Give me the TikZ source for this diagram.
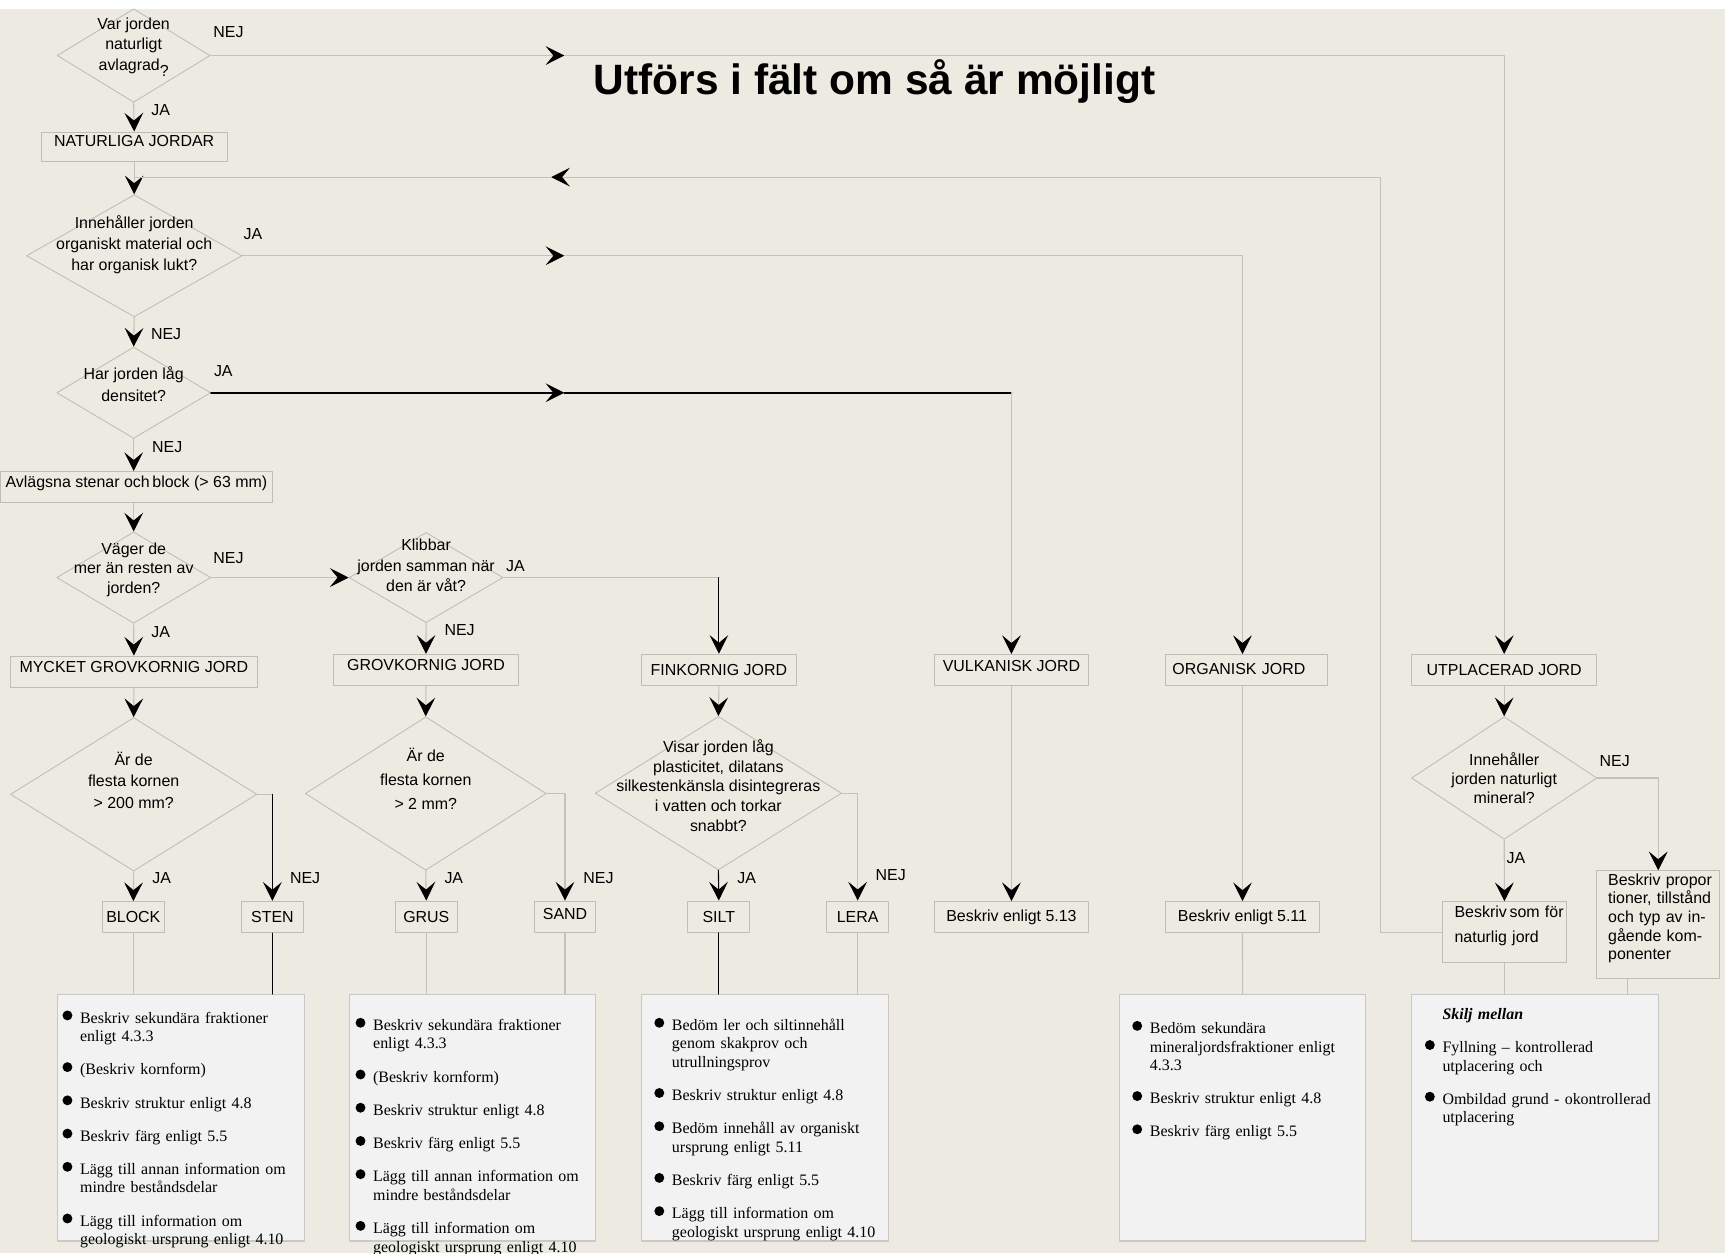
\documentclass[tikz,border=0pt]{standalone}
\usepackage{fontspec}
\setmainfont{Liberation Serif}
\newfontfamily\arial{Liberation Sans}
\usepackage{xcolor}
\usepackage{tikz}
\usetikzlibrary{arrows.meta,shapes.geometric}
\definecolor{bakgrund}{RGB}{237,235,225}
\definecolor{linje}{RGB}{194,194,186}
\definecolor{kant}{RGB}{190,190,182}
\definecolor{ruta}{RGB}{242,242,242}
\definecolor{rutkant}{RGB}{200,200,200}
\newcommand{\kula}{\raisebox{2.5pt}{\tikz\fill[black] (0,0) circle (4.5pt);}}
\newcommand{\punkt}[1]{\hangindent=16pt\hangafter=1\makebox[16pt][l]{\kula}#1\par}
\begin{document}
\begin{tikzpicture}[line cap=round,line join=round,>={Stealth[length=17pt,width=17pt,inset=7pt,black]},x=1pt,y=-1pt,
every node/.style={font=\arial\fontsize{14.5}{18.5}\selectfont},
ln/.style={draw=linje,line width=1pt},
svart/.style={draw=black,line width=1pt},
jbox/.style={rectangle,draw=kant,line width=0.9pt,inner sep=0pt,minimum height=28.5pt},
fraga/.style={diamond,draw=kant,line width=0.8pt,inner sep=0pt},
qtxt/.style={align=center,font=\arial\fontsize{14.5}{#1}\selectfont},
lbox/.style={rectangle,draw=rutkant,fill=ruta,line width=1pt,inner sep=0pt,minimum width=224pt,minimum height=224pt},
ltxt/.style={inner sep=0pt,anchor=base west,text width=212pt,align=left,font=\rmfamily\fontsize{14.5}{16.8}\selectfont,execute at begin node={\setlength{\parskip}{13.4pt}}}]
\useasboundingbox (0,0) rectangle (1568,1139);
\clip (0,0) rectangle (1568,1139);
\fill[white] (0,0) rectangle (1568,1139);
\fill[bakgrund] (0,8) rectangle (1568,1139);
\node[font=\arial\bfseries\fontsize{38.6}{44}\selectfont,anchor=base] (rubrik) at (795,86) {Utförs i fält om så är möjligt};
\node[fraga,minimum width=139pt,minimum height=85pt,label={[qtxt=18.5,yshift=9pt]center:{Var jorden\\naturligt\\avlagrad\raisebox{-6pt}[0pt][0pt]{?}}}] (d1) at (121.5,50.5) {};
\node[fraga,minimum width=196pt,minimum height=111pt,label={[qtxt=19,yshift=10pt]center:{Innehåller jorden\\organiskt material och\\har organisk lukt?}}] (d2) at (122,232.5) {};
\node[fraga,minimum width=140pt,minimum height=83pt,label={[qtxt=20.5,yshift=8pt]center:{Har jorden låg\\densitet?}}] (d3) at (121.5,357) {};
\node[fraga,minimum width=140pt,minimum height=83pt,label={[qtxt=17.6,yshift=7pt]center:{Väger de\\mer än resten av\\jorden?}}] (d4) at (121.5,525) {};
\node[fraga,minimum width=140pt,minimum height=82pt,label={[qtxt=18.6,yshift=11pt]center:{Klibbar\\jorden samman när\\den är våt?}}] (d5) at (387.3,525) {};
\node[fraga,minimum width=224pt,minimum height=139.5pt,label={[qtxt=19.5,yshift=13pt]center:{Är de\\flesta kornen\\> 200 mm?}}] (d6) at (121.5,722) {};
\node[fraga,minimum width=219pt,minimum height=139.5pt,label={[qtxt=21.6,yshift=13.5pt]center:{Är de\\flesta kornen\\> 2 mm?}}] (d7) at (387,721.3) {};
\node[fraga,minimum width=224pt,minimum height=139.5pt,label={[qtxt=18,yshift=7pt]center:{Visar jorden låg\\plasticitet, dilatans\\silkestenkänsla disintegreras\\i vatten och torkar\\snabbt?}}] (d8) at (653,721) {};
\node[fraga,minimum width=168.5pt,minimum height=111.5pt,label={[qtxt=17]center:{Innehåller\\jorden naturligt\\mineral?}}] (d9) at (1367.3,707.2) {};
\node[jbox,minimum width=169pt,minimum height=27pt,text depth=11pt] (natur) at (122,133.5) {NATURLIGA JORDAR};
\node[jbox,minimum width=248pt,minimum height=28pt,text depth=9pt] (avl) at (124,442.6) {Avlägsna stenar och\,block (> 63 mm)};
\node[jbox,minimum width=225pt,text depth=9pt] (myck) at (121.7,610.6) {MYCKET GROVKORNIG JORD};
\node[jbox,minimum width=168.4pt,text depth=10pt] (grov) at (387.2,609) {GROVKORNIG JORD};
\node[jbox,minimum width=141pt] (fink) at (653.5,609) {FINKORNIG JORD};
\node[jbox,minimum width=140pt,text depth=8pt] (vulk) at (919.4,609.2) {VULKANISK JORD};
\node[jbox,minimum width=147.6pt,text depth=3pt,text width=135pt,align=left] (org) at (1133.2,609.2) {ORGANISK JORD};
\node[jbox,minimum width=168.5pt] (utpl) at (1367.3,609.2) {UTPLACERAD JORD};
\node[jbox,minimum width=56.4pt] (block) at (121.2,833.8) {BLOCK};
\node[jbox,minimum width=56.4pt] (sten) at (247.6,833.5) {STEN};
\node[jbox,minimum width=56.3pt] (grus) at (387.5,833.3) {GRUS};
\node[jbox,minimum width=56pt,text depth=4.6pt] (sand) at (513.6,833.3) {SAND};
\node[jbox,minimum width=56.3pt] (silt) at (653.4,833.3) {SILT};
\node[jbox,minimum width=56.3pt] (lera) at (779.6,833.3) {LERA};
\node[jbox,minimum width=140pt,minimum height=28pt] (b513) at (919.4,833.6) {Beskriv enligt 5.13};
\node[jbox,minimum width=140pt,minimum height=28pt] (b511) at (1129.4,833.6) {Beskriv enligt 5.11};
\node[jbox,minimum width=112pt,minimum height=55.5pt] (sfor) at (1367.5,847.4) {};
\node[anchor=base west,inner sep=0pt,text width=100pt,align=left,font=\arial\fontsize{14.5}{23}\selectfont] (sfort) at (1322,834) {Beskriv\,som för\\naturlig jord};
\node[jbox,minimum width=111.4pt,minimum height=98pt] (prop) at (1507.3,840.5) {};
\node[anchor=base west,inner sep=0pt,text width=100pt,align=left,font=\arial\fontsize{14.5}{17}\selectfont] (propt) at (1461.6,804.5) {Beskriv propor\\tioner, tillstånd\\och typ av in-\\gående kom-\\ponenter};
\node (nej1) at (207.7,29) {NEJ};
\node (ja1) at (146,100) {JA};
\node (ja2) at (230,213) {JA};
\node (nej2) at (151,304) {NEJ};
\node (ja3) at (203,337) {JA};
\node (nej3) at (152,406) {NEJ};
\node (nej4) at (207.7,507) {NEJ};
\node (ja4) at (146,575) {JA};
\node (ja5) at (468.6,515) {JA};
\node (nej5) at (417.8,573) {NEJ};
\node (ja6) at (147,798) {JA};
\node (nej6) at (277.3,798) {NEJ};
\node (ja7) at (412.5,798.5) {JA};
\node (nej7) at (544,798.5) {NEJ};
\node (ja8) at (678.7,798.5) {JA};
\node (nej8) at (809.7,795.8) {NEJ};
\node (nej9) at (1467.7,691.8) {NEJ};
\node (ja9) at (1377.9,780.3) {JA};
\node[lbox,minimum width=224.3pt] (lista1) at (164.6,1016) {};
\node[lbox,minimum width=223.6pt] (lista2) at (429.6,1016) {};
\node[lbox,minimum width=224.9pt] (lista3) at (695.45,1016) {};
\node[lbox,minimum width=223.6pt] (lista4) at (1129.5,1016) {};
\node[lbox,minimum width=224.6pt] (lista5) at (1395.3,1016) {};
\node[ltxt] (text1) at (56.6,930) {\punkt{Beskriv sekundära fraktioner\newline enligt 4.3.3}\punkt{(Beskriv kornform)}\punkt{Beskriv struktur enligt 4.8}\punkt{Beskriv färg enligt 5.5}\punkt{Lägg till annan information om\newline mindre beståndsdelar}\punkt{Lägg till information om\newline geologiskt ursprung enligt 4.10}};
\node[ltxt] (text2) at (323,936.7) {\punkt{Beskriv sekundära fraktioner\newline enligt 4.3.3}\punkt{(Beskriv kornform)}\punkt{Beskriv struktur enligt 4.8}\punkt{Beskriv färg enligt 5.5}\punkt{Lägg till annan information om\newline mindre beståndsdelar}\punkt{Lägg till information om\newline geologiskt ursprung enligt 4.10}};
\node[ltxt] (text3) at (594.6,936.7) {\punkt{Bedöm ler och siltinnehåll\newline genom skakprov och\newline utrullningsprov}\punkt{Beskriv struktur enligt 4.8}\punkt{Bedöm innehåll av organiskt\newline ursprung enligt 5.11}\punkt{Beskriv färg enligt 5.5}\punkt{Lägg till information om\newline geologiskt ursprung enligt 4.10}};
\node[ltxt] (text4) at (1029,939.5) {\punkt{Bedöm sekundära\newline mineraljordsfraktioner enligt\newline 4.3.3}\punkt{Beskriv struktur enligt 4.8}\punkt{Beskriv färg enligt 5.5}};
\node[ltxt] (text5) at (1295,926.7) {\hspace*{16pt}\textbf{\textit{Skilj mellan}}\par\punkt{Fyllning – kontrollerad\newline utplacering och}\punkt{Ombildad grund - okontrollerad\newline utplacering}};
\coordinate (k1) at (513,50.5);
\coordinate (k2) at (501,161);
\coordinate (k3) at (513,232.5);
\coordinate (k4) at (513,357);
\coordinate (pfot) at ([xshift=28pt]prop.south west);
\draw[ln,->] (d1.east) -- (k1);
\draw[ln,->] (k1) -| (utpl.north);
\draw[ln,->] (d1.south) -- (natur.north);
\draw[ln,->] (natur.south) -- (d2.north);
\draw[ln,->] (sfor.west) -| (1255,161) -- (k2);
\draw[ln] (k2) -- (natur.south |- k2);
\draw[ln,->] (d2.east) -- (k3);
\draw[ln,->] (k3) -| (b511.north |- org.north);
\draw[ln,->] (d2.south) -- (d3.north);
\draw[svart,line width=1.6pt,->] (d3.east) -- (k4);
\draw[svart,line width=1.6pt] (k4) -- (vulk.north |- k4);
\draw[ln,->] (vulk.north |- k4) -- (vulk.north);
\draw[ln,->] (d3.south) -- (d3.south |- avl.north);
\draw[ln,->] (avl.south -| d4.north) -- (d4.north);
\draw[ln,->] (d4.east) -- (d5.west);
\draw[ln,->] (d4.south) -- (myck.north);
\draw[ln] (d5.east) -- (d5.east -| fink.north);
\draw[svart,->] (d5.east -| fink.north) -- (fink.north);
\draw[ln,->] (d5.south) -- (grov.north);
\draw[ln,->] (myck.south) -- (d6.north);
\draw[ln,->] (grov.south) -- (d7.north);
\draw[ln,->] (fink.south) -- (d8.north);
\draw[ln,->] (d6.south) -- (block.north);
\draw[ln] (d6.east) -- (d6.east -| sten.north);
\draw[svart,->] (d6.east -| sten.north) -- (sten.north);
\draw[ln,->] (d7.south) -- (grus.north);
\draw[ln,->] (d7.east) -| (sand.north);
\draw[svart,->] (d8.south) -- (silt.north);
\draw[ln,->] (d8.east) -| (lera.north);
\draw[ln,->] (vulk.south) -- (b513.north);
\draw[ln,->] (org.south -| b511.north) -- (b511.north);
\draw[ln,->] (utpl.south) -- (d9.north);
\draw[ln,->] (d9.south) -- (sfor.north);
\draw[ln,->] (d9.east) -| (prop.north);
\draw[ln] (block.south) -- (block.south |- lista1.north);
\draw[svart] (sten.south) -- (sten.south |- lista1.north);
\draw[ln] (grus.south) -- (grus.south |- lista2.north);
\draw[ln] (sand.south) -- (sand.south |- lista2.north);
\draw[svart] (silt.south) -- (silt.south |- lista3.north);
\draw[ln] (lera.south) -- (lera.south |- lista3.north);
\draw[ln] (b511.south) -- (lista4.north);
\draw[ln] (sfor.south) -- (sfor.south |- lista5.north);
\draw[ln] (pfot) -- (pfot |- lista5.north);
\end{tikzpicture}
\end{document}
